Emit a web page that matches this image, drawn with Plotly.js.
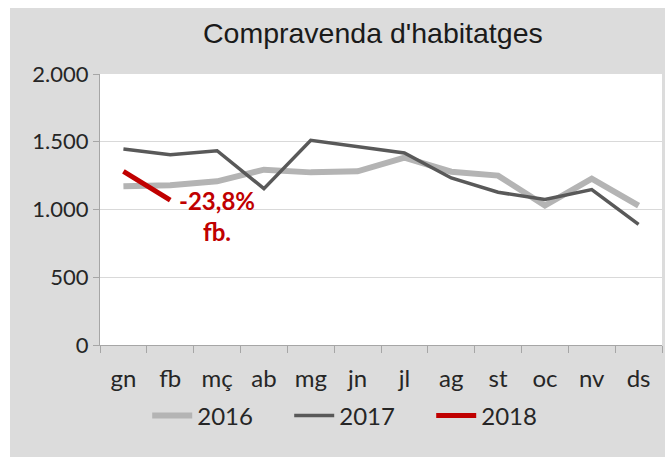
<!DOCTYPE html>
<html>
<head>
<meta charset="utf-8">
<script src="https://cdn.plot.ly/plotly-3.0.1.min.js"></script>
<style>
html,body{margin:0;padding:0;background:#ffffff;}
#chart{position:absolute;left:10px;top:8px;width:655px;height:449px;}
</style>
</head>
<body>
<div id="chart"></div>
<script>
const months = ['gn','fb','mç','ab','mg','jn','jl','ag','st','oc','nv','ds'];
const y2016 = [1171, 1179, 1208, 1294, 1274, 1282, 1382, 1279, 1250, 1029, 1228, 1029];
const y2017 = [1446, 1404, 1434, 1154, 1510, 1466, 1417, 1233, 1127, 1074, 1147, 890];
const y2018 = [1282, 1070];
const noteText = '-23,8%<br>fb.';
const noteMonth = 'mç';
const noteValue = 950;

const traces = [
  {x: months, y: y2016, name: '2016', type: 'scatter', mode: 'lines',
   line: {color: '#b4b4b4', width: 6}},
  {x: months, y: y2017, name: '2017', type: 'scatter', mode: 'lines',
   line: {color: '#595959', width: 3.5}},
  {x: months.slice(0, y2018.length), y: y2018, name: '2018', type: 'scatter', mode: 'lines',
   line: {color: '#c00000', width: 5}}
];

const layout = {
  width: 655, height: 449,
  paper_bgcolor: '#dcdcdc',
  plot_bgcolor: '#ffffff',
  separators: ',.',
  margin: {l: 90, r: 3, t: 66, b: 112},
  font: {family: 'Lato, "Open Sans", sans-serif', color: '#262626', size: 22},
  title: {text: "Compravenda d'habitatges", x: 0.554, xanchor: 'center', y: 0.944, yanchor: 'middle',
          font: {family: '"Liberation Sans", Arial, sans-serif', size: 28.5, color: '#1a1a1a'}},
  xaxis: {
    type: 'category', range: [-0.5, 11.5],
    showline: true, linecolor: '#a6a6a6', linewidth: 1,
    ticks: 'outside', tickson: 'boundaries', ticklen: 7, tickcolor: '#a6a6a6',
    ticklabelstandoff: 12,
    showgrid: false, zeroline: false, fixedrange: true,
    tickfont: {size: 24, color: '#262626'}
  },
  yaxis: {
    range: [0, 2000], dtick: 500, tickformat: ',d',
    showline: true, linecolor: '#a6a6a6', linewidth: 1,
    ticks: 'outside', ticklen: 6, tickcolor: '#a6a6a6',
    showgrid: true, gridcolor: '#d9d9d9', gridwidth: 1,
    zeroline: false, fixedrange: true,
    tickfont: {size: 22, color: '#262626'}
  },
  showlegend: true,
  legend: {orientation: 'h', x: 0.084, xanchor: 'left', y: -0.262, yanchor: 'middle',
           bgcolor: 'rgba(0,0,0,0)', font: {size: 24, color: '#262626'},
           itemwidth: 40, entrywidth: 87, tracegroupgap: 0},
  annotations: [{
    x: noteMonth, y: noteValue, xref: 'x', yref: 'y', text: '<b>' + noteText + '</b>',
    showarrow: false, xanchor: 'center', yanchor: 'middle', align: 'center',
    font: {size: 24, color: '#c00000'}
  }]
};

Plotly.newPlot('chart', traces, layout, {displayModeBar: false, staticPlot: true});
</script>
</body>
</html>
